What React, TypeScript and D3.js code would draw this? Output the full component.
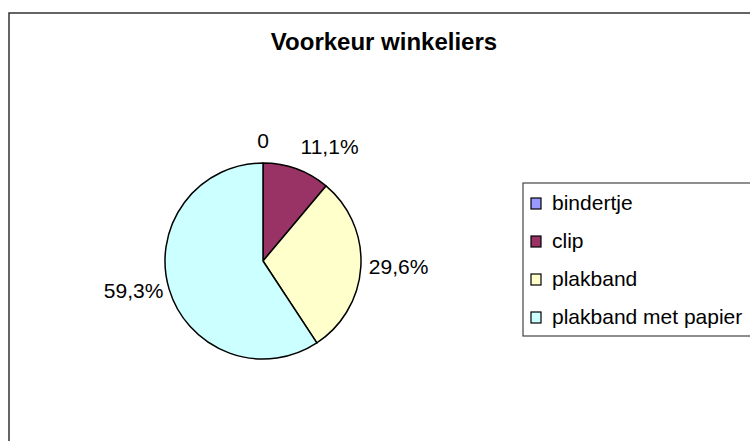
import React from "react";
import * as d3 from "d3";

const title = "Voorkeur winkeliers";
const categories = ["bindertje", "clip", "plakband", "plakband met papier"];
const counts = [0, 3, 8, 16];
const colors = ["#9999FF", "#993366", "#FFFFCC", "#CCFFFF"];

const W = 750;
const H = 441;

const nl = d3.formatLocale({
  decimal: ",",
  thousands: ".",
  grouping: [3],
  currency: ["€", ""],
});
const pct = nl.format(".1%");

export default function App() {
  const cx = 263;
  const cy = 261;
  const r = 98;
  const total = d3.sum(counts);

  const pie = d3
    .pie<number>()
    .sort(null)
    .value((d) => d);
  const arcs = pie(counts);
  const arc = d3.arc<d3.PieArcDatum<number>>().innerRadius(0).outerRadius(r);

  const labelR = r + 6;

  // legend rows
  const legendY = d3
    .scalePoint<string>()
    .domain(categories)
    .range([203, 317]);

  const font = "'Liberation Sans', Arial, sans-serif";

  return (
    <svg
      width={W}
      height={H}
      style={{ position: "absolute", left: 0, top: 0, background: "#fff" }}
      fontFamily={font}
    >
      {/* outer chart frame, runs off the picture */}
      <rect x={9} y={13} width={W} height={H} fill="#fff" stroke="#333" strokeWidth={1.5} />

      <text x={384} y={50} textAnchor="middle" fontSize={24} fontWeight="bold" fill="#000">
        {title}
      </text>

      <g transform={`translate(${cx},${cy})`}>
        {arcs.map((a, i) =>
          a.endAngle > a.startAngle ? (
            <path key={i} d={arc(a) ?? ""} fill={colors[i]} stroke="#000" strokeWidth={1.5} strokeLinejoin="round" />
          ) : null
        )}
        {arcs.map((a, i) => {
          const mid = (a.startAngle + a.endAngle) / 2;
          const s = Math.sin(mid);
          const c = Math.cos(mid);
          const x = labelR * s;
          const y = -labelR * c;
          const anchor = s > 0.3 ? "start" : s < -0.3 ? "end" : "middle";
          const base = c > 0.5 ? y - 9 : y + 7;
          const txt = counts[i] === 0 ? "0" : pct(counts[i] / total);
          return (
            <text key={i} x={x + (anchor === "start" ? 2 : 0)} y={base} textAnchor={anchor} fontSize={21} fill="#000">
              {txt}
            </text>
          );
        })}
      </g>

      {/* legend */}
      <rect x={523} y={183} width={260} height={153} fill="#fff" stroke="#444" strokeWidth={1.2} />
      {categories.map((k, i) => {
        const y = legendY(k) ?? 0;
        return (
          <g key={k}>
            <rect x={531} y={y - 5} width={10} height={11} fill={colors[i]} stroke="#000" strokeWidth={1.2} />
            <text x={552} y={y + 7} fontSize={21} fill="#000">
              {k}
            </text>
          </g>
        );
      })}
    </svg>
  );
}
